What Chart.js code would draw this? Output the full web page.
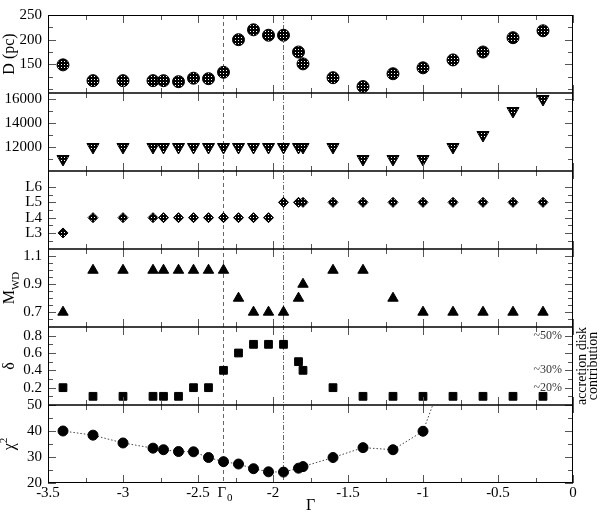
<!DOCTYPE html>
<html>
<head>
<meta charset="utf-8">
<script src="https://cdn.jsdelivr.net/npm/chart.js@4.4.1/dist/chart.umd.min.js"></script>
<style>
  html, body { margin: 0; padding: 0; background: #fff; }
  #wrap { width: 600px; height: 514px; }
</style>
</head>
<body>
<div id="wrap"><canvas id="chart" width="600" height="514"></canvas></div>
<script>
// x values (Gamma) shared by every panel
const gamma = [-3.4, -3.2, -3.0, -2.8, -2.73, -2.63, -2.53, -2.43, -2.33, -2.23, -2.13, -2.03,
               -1.93, -1.83, -1.8, -1.6, -1.4, -1.2, -1.0, -0.8, -0.6, -0.4, -0.2];
const distance = [149, 117, 117, 117, 117, 115, 122, 121, 134, 200, 220, 209,
                  209, 175, 151, 123, 105, 131, 143, 159, 175, 204, 218];
const tempWD = [11000, 12000, 12000, 12000, 12000, 12000, 12000, 12000, 12000, 12000, 12000, 12000,
                12000, 12000, 12000, 12000, 11000, 11000, 11000, 12000, 13000, 15000, 16000];
const level = [3, 4, 4, 4, 4, 4, 4, 4, 4, 4, 4, 4,
               5, 5, 5, 5, 5, 5, 5, 5, 5, 5, 5];
const massWD = [0.7, 1.0, 1.0, 1.0, 1.0, 1.0, 1.0, 1.0, 1.0, 0.8, 0.7, 0.7,
                0.7, 0.8, 0.9, 1.0, 1.0, 0.8, 0.7, 0.7, 0.7, 0.7, 0.7];
const delta = [0.2, 0.1, 0.1, 0.1, 0.1, 0.1, 0.2, 0.2, 0.4, 0.6, 0.7, 0.7,
               0.7, 0.5, 0.4, 0.2, 0.1, 0.1, 0.1, 0.1, 0.1, 0.1, 0.1];
const chi2 = [40.0, 38.4, 35.4, 33.4, 32.8, 32.1, 32.0, 29.8, 28.2, 27.3, 25.5, 24.3,
              24.2, 25.7, 26.3, 29.8, 33.6, 32.8, 39.9, 71, null, null, null];

const gammaZero = -2.335;   // dashed line, labelled Gamma_0
const gammaCut = -1.935;    // dash-dot line

// tick labels
const xTicks = [-3.5, -3, -2.5, -2, -1.5, -1, -0.5, 0];
const xMinor = [-3.25, -2.75, -2.25, -1.75, -1.25, -0.75, -0.25];
const dTicks = [150, 200, 250], dMinor = [100, 125, 175, 225];
const tTicks = [12000, 14000, 16000], tMinor = [11000, 13000, 15000];
const lTicks = [3, 4, 5, 6], lMinor = [2.5, 3.5, 4.5, 5.5];
const mTicks = [0.7, 0.9, 1.1], mMinor = [0.65, 0.75, 0.8, 0.85, 0.95, 1.0, 1.05];
const deltaTicks = [0.2, 0.4, 0.6, 0.8], deltaMinor = [0.1, 0.3, 0.5, 0.7];
const chiTicks = [20, 30, 40, 50], chiMinor = [25, 35, 45];
const pctValues = [0.8, 0.4, 0.2];
const pctLabels = ['~50%', '~30%', '~20%'];

const SERIF = "'Liberation Serif', 'DejaVu Serif', serif";
const tickFont = { family: SERIF, size: 15 };

const canvas = document.getElementById('chart');
const ctx0 = canvas.getContext('2d');

// speckled fill used by the open-looking markers
const tile = document.createElement('canvas');
tile.width = 3; tile.height = 3;
const tg = tile.getContext('2d');
tg.fillStyle = '#000'; tg.fillRect(0, 0, 3, 3);
tg.fillStyle = '#fff'; tg.fillRect(1, 1, 1, 1);
const speckle = ctx0.createPattern(tile, 'repeat');

function pts(values) {
    return gamma.map((g, i) => ({ x: g, y: values[i] }));
}

function yScale(min, max, major, fmt) {
    return {
        type: 'linear', position: 'left', stack: 'panels', stackWeight: 1,
        min: min, max: max, offset: false,
        afterFit: s => { s.width = 48; },
        afterBuildTicks: s => { s.ticks = major.map(v => ({ value: v })); },
        grid: { display: false, drawTicks: false },
        border: { display: false },
        ticks: { font: tickFont, color: '#000', padding: 6, autoSkip: false,
                 callback: fmt || (v => String(v)) }
    };
}

// y scale id -> minor / major tick lists and axis title
const panels = [
    { id: 'yD', major: dTicks, minor: dMinor, title: [['D (pc)', 0]] },
    { id: 'yT', major: tTicks, minor: tMinor, title: null },
    { id: 'yL', major: lTicks, minor: lMinor, title: null },
    { id: 'yM', major: mTicks, minor: mMinor, title: [['M', 0], ['WD', 1]] },
    { id: 'yDelta', major: deltaTicks, minor: deltaMinor, title: [['δ', 0]] },
    { id: 'yChi', major: chiTicks, minor: chiMinor, title: [['χ', 0], ['2', -1]] }
];

function drawRotatedTitle(ctx, x, y, parts) {
    // parts: [text, 0 normal | 1 subscript | -1 superscript]
    ctx.save();
    ctx.translate(x, y);
    ctx.rotate(-Math.PI / 2);
    ctx.textBaseline = 'middle';
    ctx.textAlign = 'left';
    let w = 0;
    parts.forEach(p => {
        ctx.font = (p[1] ? 11 : 16) + 'px ' + SERIF;
        w += ctx.measureText(p[0]).width;
    });
    let cx = -w / 2;
    parts.forEach(p => {
        ctx.font = (p[1] ? 11 : 16) + 'px ' + SERIF;
        ctx.fillText(p[0], cx, p[1] * 6);
        cx += ctx.measureText(p[0]).width;
    });
    ctx.restore();
}

const framePlugin = {
    id: 'frame',
    beforeDatasetsDraw(chart) {
        const { ctx, chartArea: a, scales: { x } } = chart;
        ctx.save();
        ctx.strokeStyle = '#666';
        ctx.lineWidth = 1;
        ctx.setLineDash([4, 3]);
        let px = Math.round(x.getPixelForValue(gammaZero)) + 0.5;
        ctx.beginPath(); ctx.moveTo(px, a.top); ctx.lineTo(px, a.bottom); ctx.stroke();
        ctx.setLineDash([5, 2, 1, 2]);
        px = Math.round(x.getPixelForValue(gammaCut)) + 0.5;
        ctx.beginPath(); ctx.moveTo(px, a.top); ctx.lineTo(px, a.bottom); ctx.stroke();
        ctx.restore();
    },
    afterDatasetsDraw(chart) {
        const { ctx, chartArea: a, scales } = chart;
        const x = scales.x;
        ctx.save();
        // ticks
        ctx.strokeStyle = '#555';
        ctx.lineWidth = 1;
        ctx.beginPath();
        panels.forEach(p => {
            const s = scales[p.id];
            [[xTicks, 8], [xMinor, 5]].forEach(([list, len]) => {
                list.forEach(v => {
                    const px = Math.round(x.getPixelForValue(v)) + 0.5;
                    ctx.moveTo(px, s.top); ctx.lineTo(px, s.top + len);
                    ctx.moveTo(px, s.bottom); ctx.lineTo(px, s.bottom - len);
                });
            });
            [[p.major, 8], [p.minor, 5]].forEach(([list, len]) => {
                list.forEach(v => {
                    const py = Math.round(s.getPixelForValue(v)) + 0.5;
                    ctx.moveTo(a.left, py); ctx.lineTo(a.left + len, py);
                    ctx.moveTo(a.right, py); ctx.lineTo(a.right - len, py);
                });
            });
        });
        ctx.stroke();
        // frame and panel separators
        ctx.strokeStyle = '#000';
        ctx.lineWidth = 1;
        ctx.strokeRect(a.left + 0.5, a.top + 0.5, a.right - a.left - 1, a.bottom - a.top - 1);
        ctx.lineWidth = 1.6;
        ctx.beginPath();
        panels.slice(1).forEach(p => {
            const y = scales[p.id].top;
            ctx.moveTo(a.left, y); ctx.lineTo(a.right, y);
        });
        ctx.stroke();

        // axis titles
        ctx.fillStyle = '#000';
        panels.forEach(p => {
            if (!p.title) return;
            const s = scales[p.id];
            drawRotatedTitle(ctx, 10, (s.top + s.bottom) / 2, p.title);
        });

        // accretion disk contribution labels
        const sd = scales.yDelta;
        ctx.font = '12px ' + SERIF;
        ctx.fillStyle = '#333';
        ctx.textAlign = 'right';
        ctx.textBaseline = 'middle';
        pctValues.forEach((v, i) => {
            ctx.fillText(pctLabels[i], a.right - 11, sd.getPixelForValue(v));
        });
        ctx.save();
        ctx.translate(582, (sd.top + sd.bottom) / 2);
        ctx.rotate(-Math.PI / 2);
        ctx.font = '14px ' + SERIF;
        ctx.fillStyle = '#000';
        ctx.textAlign = 'center';
        ctx.fillText('accretion disk', 0, 0);
        ctx.fillText('contribution', 0, 11);
        ctx.restore();

        // Gamma_0 marker on the x axis
        const gx = x.getPixelForValue(gammaZero);
        ctx.fillStyle = '#000';
        ctx.textAlign = 'center';
        ctx.textBaseline = 'middle';
        ctx.font = '15px ' + SERIF;
        ctx.fillText('Γ', gx - 1, a.bottom + 10);
        ctx.font = '11px ' + SERIF;
        ctx.fillText('0', gx + 7, a.bottom + 15);
        ctx.restore();
    }
};

new Chart(canvas, {
    type: 'scatter',
    data: {
        datasets: [
            { data: pts(distance), yAxisID: 'yD', pointStyle: 'circle', pointRadius: 6,
              backgroundColor: speckle, borderColor: '#000', borderWidth: 1 },
            { data: pts(tempWD), yAxisID: 'yT', pointStyle: 'triangle', pointRotation: 180, pointRadius: 7,
              backgroundColor: speckle, borderColor: '#000', borderWidth: 1 },
            { data: pts(level), yAxisID: 'yL', pointStyle: 'rectRot', pointRadius: 5,
              backgroundColor: speckle, borderColor: '#000', borderWidth: 1 },
            { data: pts(massWD), yAxisID: 'yM', pointStyle: 'triangle', pointRadius: 6,
              backgroundColor: '#000', borderColor: '#000', borderWidth: 1 },
            { data: pts(delta), yAxisID: 'yDelta', pointStyle: 'rect', pointRadius: 5.5,
              backgroundColor: '#000', borderColor: '#000', borderWidth: 1 },
            { data: pts(chi2), yAxisID: 'yChi', pointStyle: 'circle', pointRadius: 5,
              backgroundColor: '#000', borderColor: '#444', borderWidth: 1,
              showLine: true, borderDash: [1.5, 2], pointBorderColor: '#000' }
        ]
    },
    options: {
        responsive: false,
        animation: false,
        layout: { padding: { top: 9, right: 27, bottom: 0, left: 0 } },
        plugins: { legend: { display: false }, tooltip: { enabled: false } },
        scales: {
            x: {
                type: 'linear', position: 'bottom', min: -3.5, max: 0,
                afterFit: s => { s.height = 31; },
                afterBuildTicks: s => { s.ticks = xTicks.map(v => ({ value: v })); },
                grid: { display: false, drawTicks: false },
                border: { display: false },
                ticks: { font: tickFont, color: '#000', padding: 1, maxRotation: 0, autoSkip: false,
                         callback: v => String(v) },
                title: { display: true, text: 'Γ', color: '#000', padding: 0,
                         font: { family: SERIF, size: 16, lineHeight: 1 } }
            },
            // stacked axes are placed bottom-up in definition order
            yChi: yScale(20, 50, chiTicks),
            yDelta: yScale(0, 0.9, deltaTicks),
            yM: yScale(0.594, 1.152, mTicks),
            yL: yScale(1.95, 7.05, lTicks, v => 'L' + v),
            yT: yScale(10000, 16500, tTicks),
            yD: yScale(92, 250, dTicks)
        }
    },
    plugins: [framePlugin]
});
</script>
</body>
</html>
